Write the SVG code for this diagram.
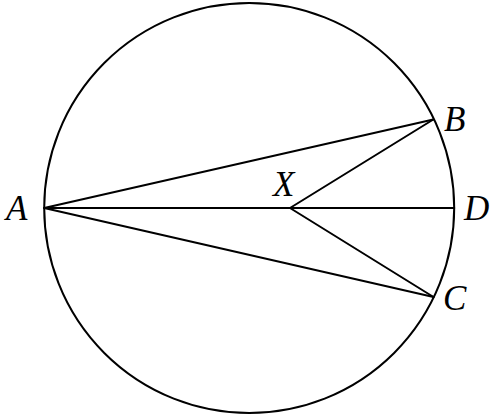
<svg xmlns="http://www.w3.org/2000/svg" width="504" height="417" viewBox="0 0 504 417">
<style>
.l{fill:none;stroke:#000;stroke-width:2;stroke-linecap:round;stroke-linejoin:round}
.t{font-family:"Liberation Serif",serif;font-style:italic;font-size:35px;fill:#000}
</style>
<rect width="504" height="417" fill="#fff"/>
<g id="circle"><circle class="l" cx="249.2" cy="208" r="205"/></g>
<g id="connectors">
<line class="l" x1="44.2" y1="208" x2="454.2" y2="208"/>
<line class="l" x1="44.2" y1="208" x2="433.3" y2="119.5"/>
<line class="l" x1="44.2" y1="208" x2="433.5" y2="297"/>
<line class="l" x1="290" y1="208" x2="433.3" y2="119.5"/>
<line class="l" x1="290" y1="208" x2="433.5" y2="297"/>
</g>
<g id="A"><text class="t" x="6" y="220">A</text></g>
<g id="B"><text class="t" x="444" y="131">B</text></g>
<g id="C"><text class="t" x="443" y="310">C</text></g>
<g id="D"><text class="t" x="464" y="220">D</text></g>
<g id="X"><text class="t" x="273" y="196">X</text></g>
</svg>
